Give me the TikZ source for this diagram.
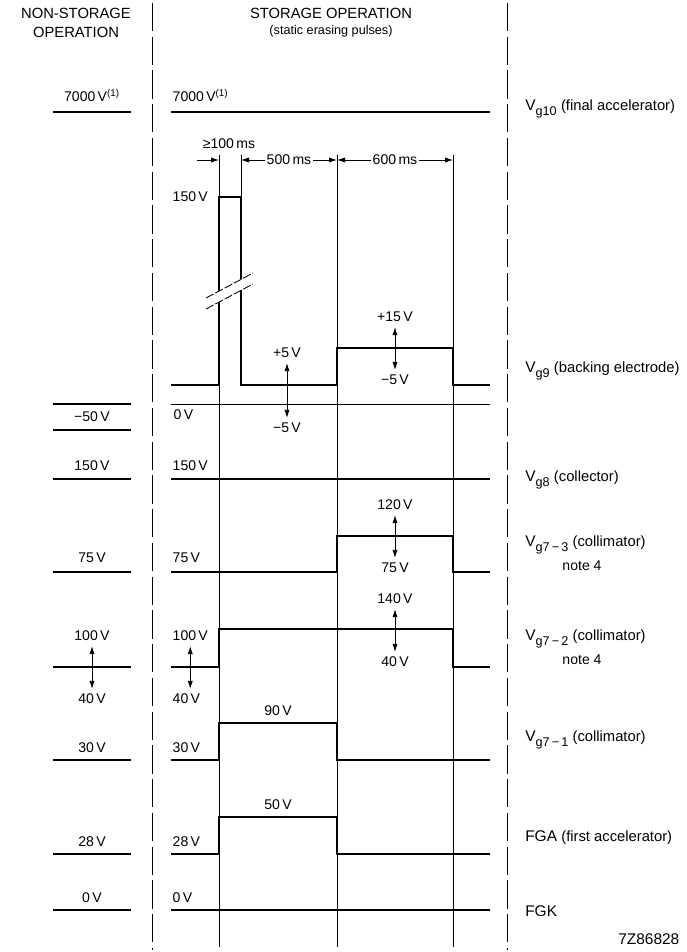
\documentclass[tikz,border=0pt]{standalone}
\usepackage{fontspec}
\setmainfont{Liberation Sans}
\usetikzlibrary{positioning,arrows.meta}
\newcommand{\desc}[1]{{\fontsize{10.5}{12}\selectfont(#1)}}
\newcommand{\gsub}[1]{\raisebox{-3.5pt}{\fontsize{9}{9}\selectfont #1}}

\begin{document}
\begin{tikzpicture}[
    x=0.025cm, y=-0.025cm,
    head/.style={font=\fontsize{10.5}{13.5}\selectfont, align=center, inner sep=0pt},
    volt/.style={font=\fontsize{10}{12}\selectfont, inner sep=1pt, text height=7pt, text depth=0pt},
    svolt/.style={volt, anchor=west},
    elec/.style={volt, font=\fontsize{11}{13}\selectfont, anchor=west, inner sep=0pt},
    wave/.style={line width=1.3pt},
    timeline/.style={line width=0.6pt},
    sep/.style={line width=0.6pt, dash pattern=on 20pt off 4pt},
    swing/.style={{Latex[length=2mm,width=1.3mm]}-{Latex[length=2mm,width=1.3mm]}, line width=0.6pt, shorten <=2.5pt, shorten >=2.5pt},
    dimarrow/.style={-{Latex[length=2mm,width=1.3mm]}, line width=0.6pt}
]
    \useasboundingbox (0,0) rectangle (686,952);

    % headings
    \node[head] (nsop) at (76,23) {NON-STORAGE\\OPERATION};
    \node[head] (sop) at (331,13) {STORAGE OPERATION};
    \node[font=\fontsize{9}{11}\selectfont, inner sep=0pt, below=4.5pt of sop] (sopsub) {(static erasing pulses)};

    % separators
    \draw[sep] (152,3) -- (152,950);
    \draw[sep] (507,3) -- (507,950);

    % timing
    \coordinate (t1) at (219,155);
    \coordinate (t2) at (241,155);
    \coordinate (t3) at (337,155);
    \coordinate (t4) at (453,155);
    \coordinate (a0) at (197,160);
    \coordinate (bot) at (0,947);
    \node[volt] (ms100) at (229,144) {≥100\,ms};
    \node[volt] (ms500) at (289,160) {500\,ms};
    \node[volt] (ms600) at (395,160) {600\,ms};
    \draw[dimarrow] (a0) -- (a0 -| t1);
    \draw[dimarrow] (ms500) -- (ms500 -| t2);
    \draw[dimarrow] (ms500) -- (ms500 -| t3);
    \draw[dimarrow] (ms600) -- (ms600 -| t3);
    \draw[dimarrow] (ms600) -- (ms600 -| t4);
    \draw[timeline] (t1) -- (219,197);
    \draw[timeline] (219,385) -- (t1 |- bot);
    \draw[timeline] (t2) -- (241,197);
    \draw[timeline] (t3) -- (t3 |- bot);
    \draw[timeline] (t4) -- (t4 |- bot);

    % Vg10
    \draw[wave] (53,112) -- (131,112);
    \draw[wave] (171,112) -- (490,112);
    \node[volt] (n7000) at (92,97) {7000\,V\textsuperscript{(1)}};
    \node[svolt] (s7000) at (171,97) {7000\,V\textsuperscript{(1)}};
    \node[elec] (g10) at (525,106) {V\gsub{g10} \desc{final accelerator}};

    % Vg9
    \draw[wave] (171,385) -- (219,385) -- (219,302);
    \draw[wave] (219,291) -- (219,197) -- (241,197) -- (241,279);
    \draw[wave] (241,290) -- (241,385) -- (337,385) -- (337,348) -- (453,348) -- (453,385) -- (490,385);
    \draw[timeline, dash pattern=on 6pt off 1.5pt] (206,298) -- (253,273);
    \draw[timeline, dash pattern=on 6pt off 1.5pt] (206,309) -- (253,284);
    \draw[timeline] (171,404) -- (490,404);
    \node[svolt] (s150p) at (171,197) {150\,V};
    \node[svolt] (s0v) at (172,415) {0\,V};
    \node[volt] (vp5) at (287,353) {+5\,V};
    \node[volt] (vm5) at (287,428) {−5\,V};
    \draw[swing] (vp5) -- (vm5);
    \node[volt] (vp15) at (395,317) {+15\,V};
    \node[volt] (vm5b) at (395,380) {−5\,V};
    \draw[swing] (vp15) -- (vm5b);
    \draw[wave] (53,404) -- (131,404);
    \draw[wave] (53,430) -- (131,430);
    \node[volt] (n50) at (92,417) {−50\,V};
    \node[elec] (g9) at (525,368) {V\gsub{g9} \desc{backing electrode}};

    % Vg8
    \draw[wave] (53,479) -- (131,479);
    \draw[wave] (171,479) -- (490,479);
    \node[volt] (n150) at (92,466) {150\,V};
    \node[svolt] (s150) at (171,466) {150\,V};
    \node[elec] (g8) at (525,477) {V\gsub{g8} \desc{collector}};

    % Vg7-3
    \draw[wave] (53,572) -- (131,572);
    \draw[wave] (171,572) -- (337,572) -- (337,536) -- (453,536) -- (453,572) -- (490,572);
    \node[volt] (n75) at (92,558) {75\,V};
    \node[svolt] (s75) at (171,558) {75\,V};
    \node[volt] (v120) at (395,505) {120\,V};
    \node[volt] (v75) at (395,568) {75\,V};
    \draw[swing] (v120) -- (v75);
    \node[elec] (g73) at (525,542) {V\gsub{g7\,−\,3} \desc{collimator}};
    \node[volt] (note73) at (582,566) {note 4};

    % Vg7-2
    \draw[wave] (53,667) -- (131,667);
    \draw[wave] (171,667) -- (219,667) -- (219,629) -- (453,629) -- (453,667) -- (490,667);
    \node[volt] (n100) at (92,636) {100\,V};
    \node[volt] (n40) at (92,699) {40\,V};
    \draw[swing] (n100) -- (n40);
    \node[svolt] (s100) at (171,636) {100\,V};
    \node[svolt] (s40) at (171,699) {40\,V};
    \draw[swing] (s100.south) -- (s100.south |- s40.north);
    \node[volt] (v140) at (395,599) {140\,V};
    \node[volt] (v40) at (395,662) {40\,V};
    \draw[swing] (v140) -- (v40);
    \node[elec] (g72) at (525,636) {V\gsub{g7\,−\,2} \desc{collimator}};
    \node[volt] (note72) at (582,660) {note 4};

    % Vg7-1
    \draw[wave] (53,760) -- (131,760);
    \draw[wave] (171,760) -- (219,760) -- (219,723) -- (337,723) -- (337,760) -- (490,760);
    \node[volt] (n30) at (92,748) {30\,V};
    \node[svolt] (s30) at (171,748) {30\,V};
    \node[volt] (v90) at (278,711) {90\,V};
    \node[elec] (g71) at (525,737) {V\gsub{g7\,−\,1} \desc{collimator}};

    % FGA
    \draw[wave] (53,854) -- (131,854);
    \draw[wave] (171,854) -- (219,854) -- (219,817) -- (337,817) -- (337,854) -- (490,854);
    \node[volt] (n28) at (92,842) {28\,V};
    \node[svolt] (s28) at (171,842) {28\,V};
    \node[volt] (v50) at (278,805) {50\,V};
    \node[elec] (fga) at (525,837) {FGA \desc{first accelerator}};

    % FGK
    \draw[wave] (53,910) -- (131,910);
    \draw[wave] (171,910) -- (490,910);
    \node[volt] (n0) at (92,898) {0\,V};
    \node[svolt] (s0) at (171,898) {0\,V};
    \node[elec] (fgk) at (525,912) {FGK};

    \node[volt, anchor=east, font=\fontsize{11}{13}\selectfont] (figno) at (681,940) {7Z86828};
\end{tikzpicture}
\end{document}
